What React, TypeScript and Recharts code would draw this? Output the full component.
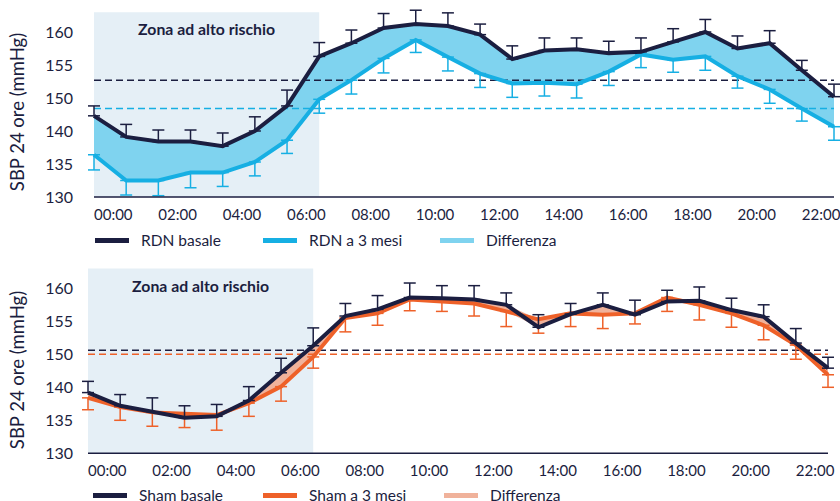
import { ComposedChart, Line, Area, XAxis, YAxis, ErrorBar, ReferenceLine, ReferenceArea, Label } from "recharts";

const HOURS = [0, 1, 2, 3, 4, 5, 6, 7, 8, 9, 10, 11, 12, 13, 14, 15, 16, 17, 18, 19, 20, 21, 22, 23];
const X_TICKS = [0, 2, 4, 6, 8, 10, 12, 14, 16, 18, 20, 22];
const Y_TICKS = [130, 135, 140, 150, 155, 160];

// RDN (mmHg)
const RDN_BASALE = [144.6, 139.1, 138.4, 138.4, 137.7, 140.0, 147.6, 156.3, 158.3, 160.6, 161.2, 160.9, 159.6, 155.9, 157.2, 157.4, 156.8, 157.0, 158.5, 160.0, 157.5, 158.3, 154.2, 150.2];
const RDN_BASALE_UP = [147.6, 142.0, 140.3, 140.3, 139.7, 144.3, 151.2, 158.4, 160.3, 162.8, 163.3, 162.9, 161.2, 157.9, 159.1, 159.1, 158.6, 159.1, 160.5, 161.9, 159.4, 160.2, 155.7, 152.1];
const RDN_3M = [136.4, 132.5, 132.5, 133.7, 133.7, 135.3, 138.6, 149.6, 152.7, 156.0, 158.8, 156.2, 153.7, 152.2, 152.3, 152.1, 154.0, 156.6, 155.8, 156.3, 153.3, 151.3, 146.8, 141.3];
const RDN_3M_LOW = [134.1, 130.3, 130.2, 131.4, 131.6, 133.2, 136.6, 145.4, 150.6, 153.8, 156.9, 154.1, 151.6, 150.1, 150.3, 150.0, 151.9, 154.6, 153.9, 154.2, 151.5, 148.4, 143.0, 138.6];
const RDN_MEANS = [152.7, 146.8];

// Sham (mmHg)
const SHAM_BASALE = [139.2, 137.2, 136.3, 135.4, 135.6, 138.0, 144.4, 151.3, 155.8, 156.8, 158.6, 158.5, 158.3, 157.5, 154.1, 156.1, 157.5, 156.0, 158.0, 158.1, 156.7, 155.7, 151.7, 145.8];
const SHAM_BASALE_UP = [141.8, 138.9, 138.4, 137.2, 137.4, 140.2, 148.8, 154.0, 157.7, 158.9, 160.8, 160.4, 160.4, 159.3, 156.0, 157.7, 159.3, 158.2, 159.7, 160.2, 158.5, 157.5, 153.9, 149.1];
const SHAM_3M = [138.4, 137.0, 136.2, 136.0, 135.8, 137.6, 140.2, 149.2, 155.5, 156.2, 158.3, 158.0, 157.7, 156.5, 155.3, 156.2, 156.0, 156.2, 158.6, 157.5, 156.2, 154.4, 151.4, 143.8];
const SHAM_3M_LOW = [136.6, 135.0, 134.1, 133.9, 133.5, 135.6, 137.9, 145.8, 153.4, 154.4, 156.6, 156.5, 155.8, 154.2, 153.2, 154.2, 153.9, 154.6, 156.5, 155.2, 154.1, 152.2, 148.5, 140.0];
const SHAM_MEANS = [150.6, 150.0];

const NAVY = "#1b1e40";
const CYAN = "#16afe3";
const CYAN_BAND = "#7fd3ef";
const ORANGE = "#ee6129";
const SALMON = "#f0b29b";
const ZONE = "#e5eff6";
const FONT = "Lato, 'Open Sans', sans-serif";

// the y axis is broken: 140 -> 150 takes the room of a single 5 mmHg step
const toAxis = (v: number) => (v <= 140 ? v : v <= 150 ? 140 + (v - 140) / 2 : v - 5);
const Y_MAX = 158.5;

function buildRows(base: number[], baseUp: number[], m3: number[], m3Low: number[]) {
    return HOURS.map((h, i) => {
        const b = toAxis(base[i]);
        const m = toAxis(m3[i]);
        return {
            h,
            base: b,
            m3: m,
            band: [Math.min(b, m), Math.max(b, m)],
            baseErr: [0, toAxis(baseUp[i]) - b],
            m3Err: [m - toAxis(m3Low[i]), 0],
        };
    });
}

function XTick({ x, y, payload }: any) {
    const hh = String(payload.value).padStart(2, "0");
    return (
        <text x={x} y={y + 23} textAnchor="start" fill={NAVY} fontSize={15} fontFamily={FONT}>
            {`${hh}:00`}
        </text>
    );
}

function YTick({ x, y, payload }: any) {
    const label = Y_TICKS[Y_TICKS.map(toAxis).indexOf(payload.value)];
    return (
        <text x={x} y={y + 5.5} textAnchor="end" fill={NAVY} fontSize={16} fontFamily={FONT}>
            {label}
        </text>
    );
}

function Panel(props: {
    top: number;
    height: number;
    plotLeft: number;
    plotTop: number;
    titleY: number;
    base: number[];
    baseUp: number[];
    m3: number[];
    m3Low: number[];
    means: number[];
    color: string;
    band: string;
    names: string[];
    legendX: number[];
    legendY: number;
}) {
    const rows = buildRows(props.base, props.baseUp, props.m3, props.m3Low);
    const swatches = [NAVY, props.color, props.band];
    return (
        <div style={{ position: "absolute", left: 0, top: props.top, width: 840, height: props.height }}>
            <ComposedChart
                width={840}
                height={props.height}
                data={rows}
                margin={{ top: props.plotTop, right: 840 - props.plotLeft - 740, bottom: 0, left: 0 }}
            >
                <ReferenceArea x1={0} x2={7} y1={130} y2={158} fill={ZONE} fillOpacity={1} stroke="none">
                    <Label value="Zona ad alto rischio" position="insideTop" offset={12} fill={NAVY} fontSize={15.8} fontWeight={700} fontFamily={FONT} />
                </ReferenceArea>
                <XAxis
                    type="number"
                    dataKey="h"
                    domain={[0, 23]}
                    ticks={X_TICKS}
                    interval={0}
                    tick={<XTick />}
                    tickLine={false}
                    tickSize={0}
                    tickMargin={0}
                    axisLine={{ stroke: NAVY, strokeWidth: 1.5 }}
                    height={props.height - props.plotTop - (Y_MAX - 130) * 6.6}
                />
                <YAxis
                    type="number"
                    domain={[130, Y_MAX]}
                    ticks={Y_TICKS.map(toAxis)}
                    interval={0}
                    tick={<YTick />}
                    tickLine={false}
                    tickSize={0}
                    tickMargin={props.plotLeft - 73}
                    axisLine={false}
                    width={props.plotLeft}
                >
                    <Label
                        content={() => (
                            <text
                                x={17}
                                y={props.titleY}
                                transform={`rotate(-90 17 ${props.titleY})`}
                                textAnchor="middle"
                                dominantBaseline="central"
                                fill={NAVY}
                                fontSize={18.5}
                                fontFamily={FONT}
                            >
                                SBP 24 ore (mmHg)
                            </text>
                        )}
                    />
                </YAxis>
                <ReferenceLine y={toAxis(props.means[0])} stroke={NAVY} strokeWidth={1.5} strokeDasharray="7 4" />
                <ReferenceLine y={toAxis(props.means[1])} stroke={props.color} strokeWidth={1.5} strokeDasharray="7 4" />
                <Area dataKey="band" stroke="none" fill={props.band} fillOpacity={1} isAnimationActive={false} />
                <Line dataKey="m3" stroke={props.color} strokeWidth={4} dot={false} isAnimationActive={false}>
                    <ErrorBar dataKey="m3Err" direction="y" width={6} stroke={props.color} strokeWidth={1.5} isAnimationActive={false} />
                </Line>
                <Line dataKey="base" stroke={NAVY} strokeWidth={4} dot={false} isAnimationActive={false}>
                    <ErrorBar dataKey="baseErr" direction="y" width={6} stroke={NAVY} strokeWidth={1.5} isAnimationActive={false} />
                </Line>
            </ComposedChart>
            {props.names.map((name, i) => (
                <div
                    key={name}
                    style={{
                        position: "absolute",
                        left: props.legendX[i],
                        top: props.legendY - 10,
                        height: 20,
                        display: "flex",
                        alignItems: "center",
                        fontFamily: FONT,
                        fontSize: 15.5,
                        color: NAVY,
                        whiteSpace: "nowrap",
                    }}
                >
                    <span style={{ display: "inline-block", width: 34, height: 5, background: swatches[i], marginRight: 12 }} />
                    {name}
                </div>
            ))}
        </div>
    );
}

export default function App() {
    return (
        <div style={{ position: "absolute", left: 0, top: 0, width: 840, height: 501, background: "#fff", overflow: "hidden" }}>
            <Panel
                top={0}
                height={250}
                plotLeft={94}
                plotTop={8.9}
                titleY={112}
                base={RDN_BASALE}
                baseUp={RDN_BASALE_UP}
                m3={RDN_3M}
                m3Low={RDN_3M_LOW}
                means={RDN_MEANS}
                color={CYAN}
                band={CYAN_BAND}
                names={["RDN basale", "RDN a 3 mesi", "Differenza"]}
                legendX={[95, 263, 440]}
                legendY={240}
            />
            <Panel
                top={250}
                height={251}
                plotLeft={88}
                plotTop={15.2}
                titleY={120}
                base={SHAM_BASALE}
                baseUp={SHAM_BASALE_UP}
                m3={SHAM_3M}
                m3Low={SHAM_3M_LOW}
                means={SHAM_MEANS}
                color={ORANGE}
                band={SALMON}
                names={["Sham basale", "Sham a 3 mesi", "Differenza"]}
                legendX={[93, 263, 444]}
                legendY={245}
            />
        </div>
    );
}
